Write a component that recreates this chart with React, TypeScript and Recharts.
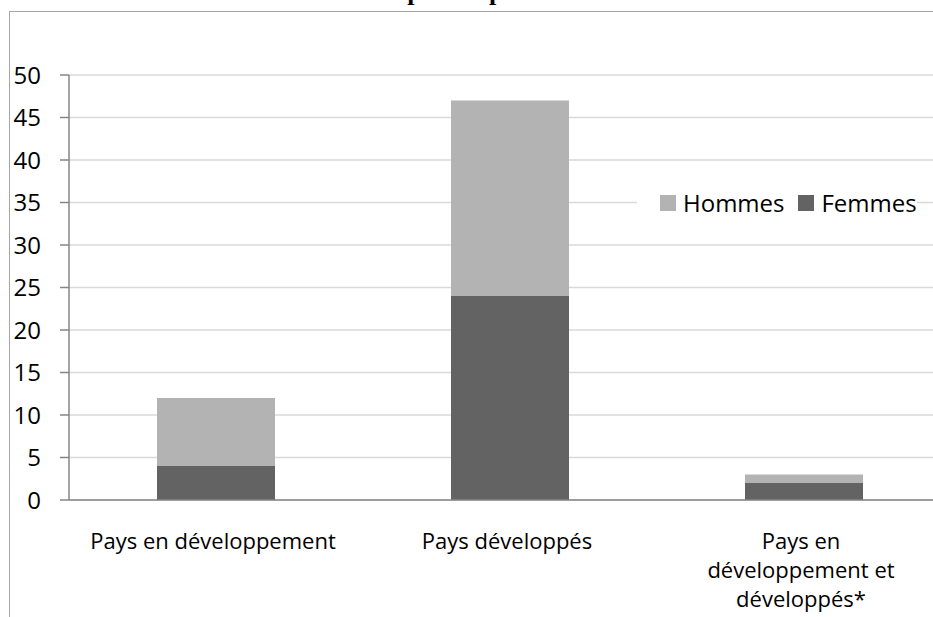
import React from 'react';
import { BarChart, Bar, XAxis, YAxis, CartesianGrid, Legend } from 'recharts';

const categories = ['Pays en développement', 'Pays développés', 'Pays en\ndéveloppement et\ndéveloppés*'];
const femmes = [4, 24, 2];
const hommes = [8, 23, 1];
const yTicks = [0, 5, 10, 15, 20, 25, 30, 35, 40, 45, 50];
const boundaryTicks = [0, 1, 2, 3];
const legendOrder = ['Hommes', 'Femmes'];
const titleText = 'Consultations complétées par niveau de situation';

const data = categories.map((c, i) => ({ idx: i + 0.5, name: c, Femmes: femmes[i], Hommes: hommes[i] }));

const FONT = '"Open Sans", sans-serif';

const CatTick = (props: any) => {
  const { x, y, payload } = props;
  const lines = String(payload.value).split('\n');
  return (
    <g>
      {lines.map((l: string, i: number) => (
        <text key={i} x={x - 3} y={y + 41 + i * 29} textAnchor="middle" fontFamily={FONT} fontSize={22} fill="#000">
          {l}
        </text>
      ))}
    </g>
  );
};

const LegendContent = (props: any) => {
  const payload = [...(props.payload || [])].sort(
    (a: any, b: any) => legendOrder.indexOf(a.value) - legendOrder.indexOf(b.value)
  );
  return (
    <div style={{ display: 'flex', alignItems: 'center', height: 30, background: '#fff', paddingLeft: 23 }}>
      {payload.map((p: any, i: number) => (
        <div key={p.value} style={{ display: 'flex', alignItems: 'center', marginRight: i === 0 ? 14 : 0 }}>
          <div style={{ width: 16, height: 16, background: p.color, marginRight: 7 }} />
          <span style={{ fontFamily: FONT, fontSize: 24, color: '#000', lineHeight: '30px' }}>{p.value}</span>
        </div>
      ))}
    </div>
  );
};

export default function App() {
  return (
    <div style={{ position: 'fixed', left: 0, top: 0, width: 933, height: 617, overflow: 'hidden', background: '#fff' }}>
      <div
        style={{
          position: 'absolute', left: 125, width: 695, top: -21, textAlign: 'center',
          fontFamily: '"Liberation Serif", serif', fontWeight: 'bold', fontSize: 26, lineHeight: '26px',
          whiteSpace: 'nowrap', color: '#000',
        }}
      >
        {titleText}
      </div>
      <div
        style={{
          position: 'absolute', left: 9, top: 11, width: 1000, height: 700,
          borderLeft: '1.5px solid #a6a6a6', borderTop: '1.5px solid #a6a6a6',
        }}
      />
      <div style={{ position: 'absolute', left: 0, top: 0 }}>
        <BarChart width={960} height={617} data={data} margin={{ top: 75, right: 9, left: 0, bottom: 0 }} barCategoryGap={0}>
          <CartesianGrid vertical={false} stroke="#d9d9d9" strokeWidth={1.5} />
          <XAxis
            xAxisId="b"
            type="number"
            dataKey="idx"
            domain={[0, 3]}
            ticks={boundaryTicks}
            height={0}
            tick={false}
            tickSize={9}
            axisLine={false}
            tickLine={{ stroke: '#868686', strokeWidth: 1.5 }}
          />
          <XAxis
            dataKey="name"
            height={117}
            tickLine={false}
            axisLine={{ stroke: '#868686', strokeWidth: 1.5 }}
            tick={<CatTick />}
            interval={0}
          />
          <YAxis
            width={69}
            domain={[0, 50]}
            ticks={yTicks}
            tickSize={9}
            tickMargin={19}
            axisLine={{ stroke: '#868686', strokeWidth: 1.5 }}
            tickLine={{ stroke: '#868686', strokeWidth: 1.5 }}
            tick={{ fontFamily: FONT, fontSize: 24, fill: '#000' }}
          />
          <Legend
            layout="horizontal"
            verticalAlign="middle"
            align="center"
            content={<LegendContent />}
            wrapperStyle={{ left: 637, top: 188, width: 280, height: 30 }}
          />
          <Bar dataKey="Femmes" stackId="a" fill="#636363" barSize={118} isAnimationActive={false} />
          <Bar dataKey="Hommes" stackId="a" fill="#b3b3b3" barSize={118} isAnimationActive={false} />
        </BarChart>
      </div>
    </div>
  );
}
